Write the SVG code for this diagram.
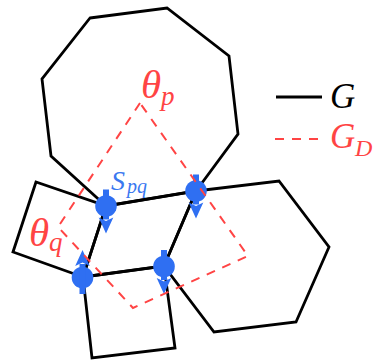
<svg xmlns="http://www.w3.org/2000/svg" width="375" height="360" viewBox="0 0 375 360">
<style>
.face{fill:none;stroke:#000;stroke-width:2.8;stroke-linejoin:miter}
.dual{fill:none;stroke:#ff4444;stroke-width:2;stroke-dasharray:9 8}
.spin{fill:#2f6ff2}
.math{font-family:"Liberation Serif","DejaVu Serif",serif;font-style:italic}
.red{fill:#ff4444}
.blue{fill:#3a78f0}
</style>
<defs>
<g id="spin-down">
<circle cx="0" cy="0" r="10.8"/>
<rect x="-3" y="-16.5" width="6" height="30"/>
<path d="M-7.3,11.5 L0,27.5 L7.3,11.5 L0,15 Z"/>
</g>
</defs>
<g id="lattice">
<polygon id="face-octagon" class="face" points="90,18 167,8 229,56 238,134 196,191 106,206 51,156 42,79"/>
<polygon id="face-left" class="face" points="36,182 13,252 83,277 106,206"/>
<polygon id="face-middle" class="face" points="106,206 196,191 164,266 83,277"/>
<polygon id="face-hexagon" class="face" points="196,191 279,181 329,247 296,322 214,332 164,266"/>
<polygon id="face-bottom" class="face" points="83,277 164,266 175,348 92,358"/>
</g>
<g id="spin1" class="spin"><use href="#spin-down" transform="translate(106,206)"/></g>
<g id="spin2" class="spin"><use href="#spin-down" transform="translate(196,191)"/></g>
<g id="spin3" class="spin"><use href="#spin-down" transform="translate(164,266.5)"/></g>
<g id="spin4" class="spin"><use href="#spin-down" transform="translate(82.5,277.5) scale(1,-1)"/></g>
<g id="connectors">
<path class="dual" d="M140,103 L58,227 L133,308 L248,256 Z"/>
</g>
<g id="label-theta-p" class="math red">
<text x="141" y="98" font-size="41">θ</text><text x="161" y="105" font-size="27">p</text>
</g>
<g id="label-theta-q" class="math red">
<text x="29" y="246" font-size="41">θ</text><text x="49" y="251" font-size="27">q</text>
</g>
<g id="label-spq" class="math blue">
<text x="111" y="190" font-size="28">S</text><text x="127" y="193" font-size="20">pq</text>
</g>
<g id="legend">
<line x1="276" y1="97" x2="322" y2="97" stroke="#000" stroke-width="2.8"/>
<text class="math" x="330" y="108" font-size="35">G</text>
<line class="dual" x1="275" y1="139" x2="322" y2="139"/>
<text class="math red" x="330" y="148" font-size="35">G</text>
<text class="math red" x="355" y="156" font-size="24">D</text>
</g>
</svg>
